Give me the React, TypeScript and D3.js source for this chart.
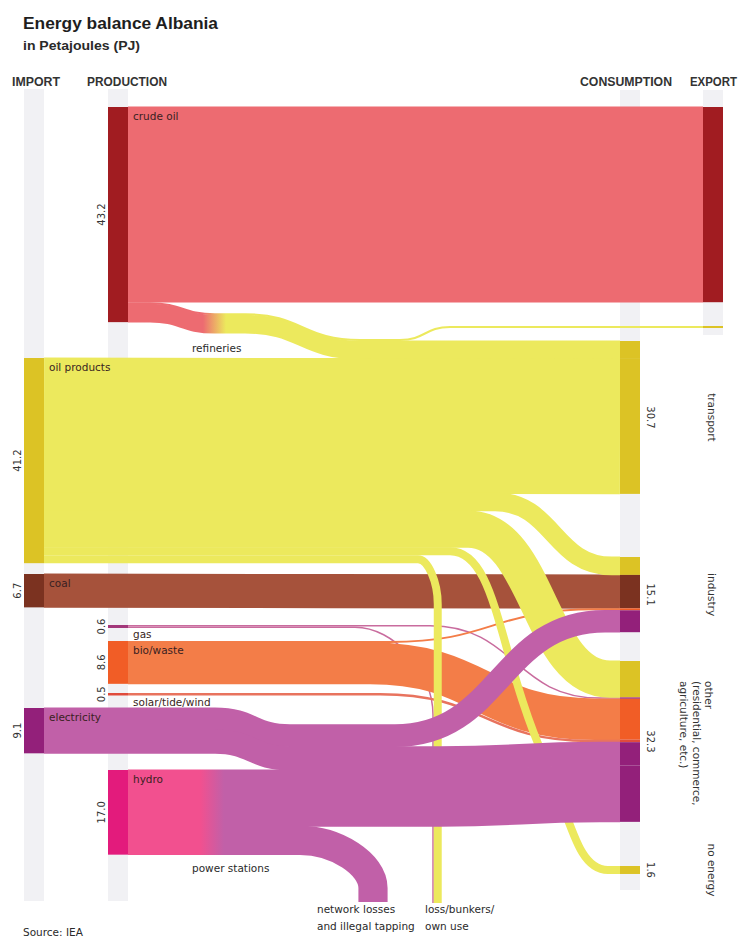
import React from "react";
import * as d3 from "d3";

// ---------------- DATA (PJ) ----------------
const importNodes = ["oil products", "coal", "electricity"];
const importValues = [41.2, 6.7, 9.1];
const productionNodes = ["crude oil", "gas", "bio/waste", "solar/tide/wind", "hydro"];
const productionValues = [43.2, 0.6, 8.6, 0.5, 17.0];
const consumptionNodes = ["transport", "industry", "other", "no energy"];
const consumptionValues = [30.7, 15.1, 32.3, 1.6];
const exportNodes = ["crude oil", "oil products"];
const exportValues = [39.2, 0.4];
const sinkNodes = ["network losses", "loss/bunkers/own use"];

const linkSources = [
  "P:crude oil", "P:crude oil", "P:crude oil",
  "I:oil products", "I:oil products", "I:oil products", "I:oil products", "I:oil products",
  "I:coal",
  "P:gas", "P:gas",
  "P:bio/waste", "P:bio/waste",
  "P:solar/tide/wind",
  "I:electricity", "I:electricity",
  "P:hydro", "P:hydro",
];
const linkTargets = [
  "E:crude oil", "E:oil products", "C:transport",
  "C:transport", "C:industry", "C:other", "C:no energy", "S:loss/bunkers/own use",
  "C:industry",
  "C:other", "S:loss/bunkers/own use",
  "C:industry", "C:other",
  "C:other",
  "C:industry", "C:other",
  "C:other", "S:network losses",
];
const linkValues = [
  39.2, 0.4, 3.6,
  27.1, 3.6, 7.3, 1.6, 1.6,
  6.7,
  0.3, 0.3,
  0.4, 8.2,
  0.5,
  4.4, 4.7,
  11.3, 5.7,
];

const consumptionLabelLines: Record<string, string[]> = {
  transport: ["transport"],
  industry: ["industry"],
  other: ["other", "(residential, commerce,", "agriculture, etc.)"],
  "no energy": ["no energy"],
};

// ---------------- LAYOUT ----------------
const W = 739, H = 940;
const PX_PER_PJ = 4.98;
const BAR_W = 20;
const COL_X: Record<string, number> = { I: 24, P: 108, C: 620, E: 703 };
const NODE_TOP: Record<string, number> = {
  "I:oil products": 358, "I:coal": 574, "I:electricity": 708,
  "P:crude oil": 107, "P:gas": 625, "P:bio/waste": 641, "P:solar/tide/wind": 693, "P:hydro": 770,
  "C:transport": 341, "C:industry": 557, "C:other": 661, "C:no energy": 866,
  "E:crude oil": 107, "E:oil products": 326,
};
const SINK_X: Record<string, number> = { "S:network losses": 373, "S:loss/bunkers/own use": 437 };
const SINK_BOTTOM: Record<string, number> = { "S:network losses": 902, "S:loss/bunkers/own use": 903 };
const SOURCE_RANK = ["P:crude oil", "I:oil products", "I:coal", "P:gas", "P:bio/waste", "P:solar/tide/wind", "I:electricity", "P:hydro"];
const DRAW_ORDER = ["P:crude oil", "I:coal", "P:gas", "P:bio/waste", "P:solar/tide/wind", "I:oil products", "I:electricity", "P:hydro"];

const NODE_COLOR: Record<string, string> = {
  "P:crude oil": "#a11c21", "I:oil products": "#dcc325", "I:coal": "#7b3220",
  "P:gas": "#a2377a", "P:bio/waste": "#f15d26", "P:solar/tide/wind": "#e04b3c",
  "I:electricity": "#93207a", "P:hydro": "#e31b7c",
};
const FLOW_COLOR: Record<string, string> = {
  "P:crude oil": "#ed6b71", "I:oil products": "#ece95d", "I:coal": "#a6523b",
  "P:gas": "#c96c9e", "P:bio/waste": "#f37d48", "P:solar/tide/wind": "#e8735e",
  "I:electricity": "#c160a8", "P:hydro": "#c160a8",
};
const SEG_COLOR_OVERRIDE: Record<string, string> = {
  "P:crude oil>E:oil products": "#dcc325",
  "P:crude oil>C:transport": "#dcc325",
  "P:hydro>C:other": "#93207a",
};
const GRAD_OVERRIDE: Record<string, string> = {
  "P:crude oil>E:oil products": "url(#gradRef)",
  "P:crude oil>C:transport": "url(#gradRef)",
  "P:hydro>C:other": "url(#gradHydro)",
  "P:hydro>S:network losses": "url(#gradHydro)",
};

type Pt = { x: number; y: number; t?: [number, number] };
const DOWN: [number, number] = [0, 1];

const hScale = d3.scaleLinear().domain([0, 1]).range([0, PX_PER_PJ]);
const ELEC_DROP = NODE_TOP["P:hydro"] - (NODE_TOP["I:electricity"] + hScale(importValues[2]));

const ROUTES: Record<string, (s: Pt, e: Pt) => Pt[]> = {
  "P:crude oil>E:oil products": (s, e) => [s, { x: 150, y: s.y }, { x: 215, y: s.y + 11 }, { x: 245, y: s.y + 11 }, { x: 360, y: 340 }, { x: 400, y: 340 }, { x: 450, y: e.y }, e],
  "P:crude oil>C:transport": (s, e) => [s, { x: 150, y: s.y }, { x: 215, y: s.y + 11 }, { x: 245, y: s.y + 11 }, { x: 360, y: e.y }, e],
  "I:oil products>C:industry": (s, e) => [s, { x: 495, y: s.y }, { x: 612, y: e.y }, e],
  "I:oil products>C:other": (s, e) => [s, { x: 468, y: s.y }, { x: 610, y: e.y }, e],
  "I:oil products>C:no energy": (s, e) => [s, { x: 450, y: s.y }, { x: 545, y: 760, t: [0.45, 1] }, { x: 608, y: e.y }, e],
  "I:oil products>S:loss/bunkers/own use": (s, e) => [s, { x: 418, y: s.y }, { x: e.x, y: s.y + 45, t: DOWN }, e],
  "P:gas>C:other": (s, e) => [s, { x: 430, y: s.y }, { x: 600, y: e.y }, e],
  "P:gas>S:loss/bunkers/own use": (s, e) => [s, { x: 355, y: s.y }, { x: e.x, y: 715, t: DOWN }, e],
  "P:bio/waste>C:industry": (s, e) => [s, { x: 390, y: s.y }, { x: 595, y: e.y }, e],
  "P:bio/waste>C:other": (s, e) => [s, { x: 370, y: s.y }, { x: 595, y: e.y }, e],
  "P:solar/tide/wind>C:other": (s, e) => [s, { x: 380, y: s.y }, { x: 590, y: e.y }, e],
  "I:electricity>C:industry": (s, e) => [s, { x: 215, y: s.y }, { x: 290, y: s.y + ELEC_DROP }, { x: 395, y: s.y + ELEC_DROP }, { x: 605, y: e.y }, e],
  "I:electricity>C:other": (s, e) => [s, { x: 215, y: s.y }, { x: 290, y: s.y + ELEC_DROP }, { x: 440, y: s.y + ELEC_DROP }, { x: 600, y: e.y }, e],
  "P:hydro>C:other": (s, e) => [s, { x: 440, y: s.y }, { x: 600, y: e.y }, e],
  "P:hydro>S:network losses": (s, e) => [s, { x: 300, y: s.y }, { x: e.x, y: 888, t: DOWN }, e],
};

function routeD(pts: Pt[]): string {
  const p = d3.path();
  p.moveTo(pts[0].x, pts[0].y);
  for (let i = 1; i < pts.length; i++) {
    const a = pts[i - 1], b = pts[i];
    const ta = a.t ?? [1, 0], tb = b.t ?? [1, 0];
    const na = Math.hypot(ta[0], ta[1]), nb = Math.hypot(tb[0], tb[1]);
    const ua = [ta[0] / na, ta[1] / na], ub = [tb[0] / nb, tb[1] / nb];
    const dx = b.x - a.x, dy = b.y - a.y;
    const la = Math.abs(dx * ua[0] + dy * ua[1]) * 0.5;
    const lb = Math.abs(dx * ub[0] + dy * ub[1]) * 0.5;
    p.bezierCurveTo(a.x + ua[0] * la, a.y + ua[1] * la, b.x - ub[0] * lb, b.y - ub[1] * lb, b.x, b.y);
  }
  return p.toString();
}

const LABEL_FONT = "'DejaVu Sans', Verdana, sans-serif";
const HEAD_FONT = "'Liberation Sans', Arial, sans-serif";

type Link = {
  key: string; source: string; target: string; value: number; w: number;
  sy0: number; ty0: number; tx: number;
};

export default function App() {
  const fmt = d3.format(".1f");

  const links: Link[] = linkSources.map((s, i) => ({
    key: s + ">" + linkTargets[i], source: s, target: linkTargets[i], value: linkValues[i],
    w: hScale(linkValues[i]), sy0: 0, ty0: 0, tx: 0,
  }));

  // source stacking
  const srcOff: Record<string, number> = {};
  links.forEach((l) => {
    const o = srcOff[l.source] ?? 0;
    l.sy0 = NODE_TOP[l.source] + o;
    srcOff[l.source] = o + l.w;
  });
  // target stacking
  const rank = (id: string) => SOURCE_RANK.indexOf(id);
  const byTarget = d3.group(links, (l) => l.target);
  byTarget.forEach((arr, tid) => {
    const isSink = tid.startsWith("S:");
    const sorted = arr.slice().sort((a, b) => (isSink ? rank(b.source) - rank(a.source) : rank(a.source) - rank(b.source)));
    if (isSink) {
      const total = d3.sum(arr, (l) => l.w);
      let x = SINK_X[tid] - total / 2;
      sorted.forEach((l) => { l.tx = x + l.w / 2; x += l.w; });
    } else {
      let o = 0;
      sorted.forEach((l) => { l.ty0 = NODE_TOP[tid] + o; o += l.w; });
    }
  });

  const drawLinks = links.slice().sort((a, b) => DRAW_ORDER.indexOf(a.source) - DRAW_ORDER.indexOf(b.source));

  const linkPath = (l: Link) => {
    const sc = l.source.split(":")[0];
    const tc = l.target.split(":")[0];
    const s: Pt = { x: COL_X[sc] + BAR_W, y: l.sy0 + l.w / 2 };
    const e: Pt = tc === "S"
      ? { x: l.tx, y: SINK_BOTTOM[l.target], t: DOWN }
      : { x: COL_X[tc], y: l.ty0 + l.w / 2 };
    const r = ROUTES[l.key] ? ROUTES[l.key](s, e) : [s, e];
    return routeD(r);
  };

  const sourceNodes = [
    ...importNodes.map((n, i) => ({ id: "I:" + n, name: n, value: importValues[i] })),
    ...productionNodes.map((n, i) => ({ id: "P:" + n, name: n, value: productionValues[i] })),
  ];
  const consNodes = consumptionNodes.map((n, i) => ({ id: "C:" + n, name: n, value: consumptionValues[i] }));
  const expNodes = exportNodes.map((n, i) => ({ id: "E:" + n, name: n, value: exportValues[i] }));

  const segs = links.filter((l) => !l.target.startsWith("S:"));

  return (
    <svg width={W} height={H} viewBox={`0 0 ${W} ${H}`} style={{ position: "absolute", left: 0, top: 0, background: "#fff" }}>
      <defs>
        <linearGradient id="gradRef" gradientUnits="userSpaceOnUse" x1={203} y1={0} x2={226} y2={0}>
          <stop offset="0" stopColor={FLOW_COLOR["P:crude oil"]} />
          <stop offset="1" stopColor={FLOW_COLOR["I:oil products"]} />
        </linearGradient>
        <linearGradient id="gradHydro" gradientUnits="userSpaceOnUse" x1={200} y1={0} x2={224} y2={0}>
          <stop offset="0" stopColor="#f2508f" />
          <stop offset="1" stopColor={FLOW_COLOR["P:hydro"]} />
        </linearGradient>
      </defs>

      {/* title */}
      <text x={23} y={29} fontFamily={HEAD_FONT} fontWeight="bold" fontSize={16} fill="#1e1e1e" textLength={195} lengthAdjust="spacingAndGlyphs">Energy balance Albania</text>
      <text x={23} y={50} fontFamily={HEAD_FONT} fontWeight="bold" fontSize={12} fill="#2a2a2a" textLength={117} lengthAdjust="spacingAndGlyphs">in Petajoules (PJ)</text>

      {/* column headers */}
      <g fontFamily={HEAD_FONT} fontSize={12} fill="#333" fontWeight="bold">
        <text x={12} y={86} textLength={48} lengthAdjust="spacingAndGlyphs">IMPORT</text>
        <text x={87} y={86} textLength={80} lengthAdjust="spacingAndGlyphs">PRODUCTION</text>
        <text x={580} y={86} textLength={92} lengthAdjust="spacingAndGlyphs">CONSUMPTION</text>
        <text x={690} y={86} textLength={47} lengthAdjust="spacingAndGlyphs">EXPORT</text>
      </g>

      {/* background columns */}
      <g fill="#f1f1f4">
        <rect x={COL_X.I} y={89} width={BAR_W} height={812} />
        <rect x={COL_X.P} y={89} width={BAR_W} height={812} />
        <rect x={COL_X.C} y={90} width={BAR_W} height={800} />
        <rect x={COL_X.E} y={90} width={BAR_W} height={245} />
      </g>

      {/* links */}
      <g fill="none">
        {drawLinks.map((l) => (
          <path key={l.key} d={linkPath(l)}
            stroke={GRAD_OVERRIDE[l.key] ?? FLOW_COLOR[l.source]}
            strokeWidth={l.w + (l.value > 2 ? 0.8 : 0)} />
        ))}
      </g>

      {/* source bars */}
      {sourceNodes.map((n) => {
        const col = n.id.split(":")[0];
        const y = NODE_TOP[n.id];
        const hh = hScale(n.value);
        return (
          <g key={n.id}>
            <rect x={COL_X[col]} y={y} width={BAR_W} height={hh} fill={NODE_COLOR[n.id]} />
            <text transform={`translate(${COL_X[col] - 3},${y + hh / 2}) rotate(-90)`} textAnchor="middle"
              fontFamily={LABEL_FONT} fontSize={10} fill="#333">{fmt(n.value)}</text>
            <text x={COL_X[col] + BAR_W + 5} y={y + 13} fontFamily={LABEL_FONT} fontSize={10.5} fill="#3a1f22">{n.name}</text>
          </g>
        );
      })}

      {/* consumption / export bar segments */}
      {segs.map((l) => (
        <rect key={"seg" + l.key} x={COL_X[l.target.split(":")[0]]} y={l.ty0} width={BAR_W} height={l.w}
          fill={SEG_COLOR_OVERRIDE[l.key] ?? NODE_COLOR[l.source]} />
      ))}

      {/* consumption labels */}
      {consNodes.map((n) => {
        const y = NODE_TOP[n.id];
        const hh = hScale(n.value);
        const lines = consumptionLabelLines[n.name];
        const multi = lines.length > 1;
        return (
          <g key={n.id} fontFamily={LABEL_FONT} fill="#333">
            <text transform={`translate(${COL_X.C + BAR_W + 7},${y + hh / 2}) rotate(90)`} textAnchor="middle" fontSize={10}>{fmt(n.value)}</text>
            <text transform={`translate(${multi ? 705 : 708},${multi ? 681 : y + hh / 2}) rotate(90)`}
              textAnchor={multi ? "start" : "middle"} fontSize={10.5}>
              {lines.map((t, i) => (
                <tspan key={i} x={0} dy={i === 0 ? 0 : 12.5}>{t}</tspan>
              ))}
            </text>
          </g>
        );
      })}

      {/* flow annotations */}
      <g fontFamily={LABEL_FONT} fontSize={10.5} fill="#2a2a2a">
        <text x={192} y={352}>refineries</text>
        <text x={192} y={872}>power stations</text>
        <text x={317} y={913}>
          <tspan x={317} dy={0}>{sinkNodes[0]}</tspan>
          <tspan x={317} dy={17}>and illegal tapping</tspan>
        </text>
        <text x={425} y={913}>
          <tspan x={425} dy={0}>loss/bunkers/</tspan>
          <tspan x={425} dy={17}>own use</tspan>
        </text>
        <text x={23} y={936}>Source: IEA</text>
      </g>
    </svg>
  );
}
